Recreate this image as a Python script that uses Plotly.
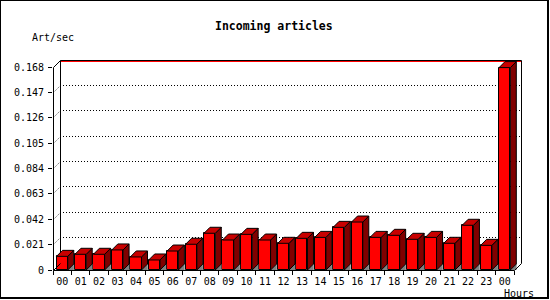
import plotly.graph_objects as go

# ---------------- data ----------------
hours = ["00", "01", "02", "03", "04", "05", "06", "07", "08", "09", "10", "11",
         "12", "13", "14", "15", "16", "17", "18", "19", "20", "21", "22", "23", "00"]
rates = [0.0113, 0.0130, 0.0130, 0.0166, 0.0108, 0.0083, 0.0157, 0.0213, 0.0304,
         0.0248, 0.0295, 0.0248, 0.0221, 0.0262, 0.0270, 0.0353, 0.0397, 0.0270,
         0.0287, 0.0254, 0.0270, 0.0221, 0.0370, 0.0204, 0.1675]
y_ticks = [0, 0.021, 0.042, 0.063, 0.084, 0.105, 0.126, 0.147, 0.168]
y_labels = ["0", "0.021", "0.042", "0.063", "0.084", "0.105", "0.126", "0.147", "0.168"]
title_text = "Incoming articles"
y_title = "Art/sec"
x_title = "Hours"

# ---------------- geometry ----------------
W, H = 550, 300
L, R, T, B = 53, 521, 61, 270          # plot area (incl. 3D back wall)
FRONT_W = 461                            # front plane width in px
PXU = FRONT_W / len(hours)               # px per category
PXV = 203 / y_ticks[-1]                  # px per value unit
XMAX = (R - L) / PXU
YMAX = (B - T) / PXV
WALL = 7                                 # wall depth in px
DEPTH = 6                                # bar depth in px
BAR_OFF = 0.19
BAR_W = 0.61
FONT = "DejaVu Sans Mono"


def px(xp):
    return (xp - L) / (R - L)


def py(yp):
    return (B - yp) / (B - T)


def xpix(u):
    return L + u * PXU


def ypix(v):
    return B - v * PXV


dxb = DEPTH / PXU
dyb = DEPTH / PXV

top_x, top_y, side_x, side_y, sh_x, sh_y = [], [], [], [], [], []
for i, v in enumerate(rates):
    xl = i + BAR_OFF
    xr = xl + BAR_W
    top_x += [xl, xl + dxb, xr + dxb, xr, xl, None]
    top_y += [v, v + dyb, v + dyb, v, v, None]
    side_x += [xr, xr + dxb, xr + dxb, xr, xr, None]
    side_y += [v, v + dyb, dyb, 0, v, None]
    sh_x += [xr, xr + dxb, xr + dxb, xr, None]
    sh_y += [0, dyb, 0, 0, None]

fig = go.Figure()
fig.add_trace(go.Bar(
    x=[i + BAR_OFF + BAR_W / 2 for i in range(len(rates))], y=rates, width=BAR_W,
    marker=dict(color="#ff0000", line=dict(color="black", width=1)),
    hoverinfo="skip", showlegend=False))
fig.add_trace(go.Scatter(x=sh_x, y=sh_y, mode="lines", fill="toself",
                         fillcolor="#808080", line=dict(color="#808080", width=0.5),
                         hoverinfo="skip", showlegend=False))
fig.add_trace(go.Scatter(x=side_x, y=side_y, mode="lines", fill="toself",
                         fillcolor="#800000", line=dict(color="black", width=1),
                         hoverinfo="skip", showlegend=False))
fig.add_trace(go.Scatter(x=top_x, y=top_y, mode="lines", fill="toself",
                         fillcolor="#c80000", line=dict(color="black", width=1),
                         hoverinfo="skip", showlegend=False))

shapes = []


def seg(x0, y0, x1, y1, color="black", width=1, dash=None, layer="above"):
    ln = dict(color=color, width=width)
    if dash:
        ln["dash"] = dash
    shapes.append(dict(type="line", xref="paper", yref="paper",
                       x0=px(x0), y0=py(y0), x1=px(x1), y1=py(y1),
                       line=ln, layer=layer))


# image frame
seg(0.5, 0, 0.5, 299)
seg(0, 0.5, 548, 0.5)
seg(548, 0, 548, 299, width=2)
seg(0, 298, 549, 298, width=2)

# back wall
ytop = round(ypix(y_ticks[-1]))
seg(L + WALL + 0.5, ytop - WALL + 0.5, R + 0.5, ytop - WALL + 0.5, layer="below")
seg(L + WALL + 0.5, ytop - WALL + 1.5, R, ytop - WALL + 1.5, color="#ff0000", layer="below")
seg(L + WALL + 0.5, ytop - WALL + 0.5, L + WALL + 0.5, B - WALL + 0.5, layer="below")
seg(R + 0.5, ytop - WALL + 0.5, R + 0.5, B - WALL + 0.5, layer="below")
# dotted grid on back wall
for v in y_ticks[1:-1]:
    yt = round(ypix(v) - 0.5)
    yy = yt - WALL + 0.5
    seg(L + WALL, yy, R, yy, dash="1px,2px", layer="below")
    seg(L + 0.5, yt + 0.5, L + WALL + 0.5, yy, dash="1px,2px", layer="below")
# depth edges
seg(L + 0.5, ytop + 0.5, L + WALL + 0.5, ytop - WALL + 0.5)
seg(L + 0.5, B + 0.5, L + WALL + 0.5, B - WALL + 0.5)
xr_front = round(xpix(len(hours)))
seg(xr_front + 0.5, B + 0.5, xr_front + WALL + 0.5, B - WALL + 0.5)
# front axes
seg(L + 0.5, ytop + 0.5, L + 0.5, B + 0.5)
seg(L + 0.5, B + 0.5, xr_front + 0.5, B + 0.5)

annotations = [
    dict(text=title_text, x=px(274), y=py(26), xref="paper", yref="paper",
         showarrow=False, xanchor="center", yanchor="middle",
         font=dict(family=FONT, size=11.5, color="black", weight="bold")),
    dict(text=y_title, x=px(30), y=py(37), xref="paper", yref="paper",
         showarrow=False, xanchor="left", yanchor="middle",
         font=dict(family=FONT, size=10, color="black")),
    dict(text=x_title, x=px(519), y=py(293), xref="paper", yref="paper",
         showarrow=False, xanchor="center", yanchor="middle",
         font=dict(family=FONT, size=10, color="black")),
]

fig.update_layout(
    width=W, height=H, autosize=False,
    margin=dict(l=L, r=W - R, t=T, b=H - B, pad=0),
    paper_bgcolor="white", plot_bgcolor="white",
    shapes=shapes, annotations=annotations, showlegend=False,
    bargap=0,
    xaxis=dict(range=[0, XMAX], tickmode="array",
               tickvals=[i + 0.5 for i in range(len(hours))], ticktext=hours,
               ticks="", showgrid=False, zeroline=False, showline=False,
               ticklabelstandoff=4,
               tickfont=dict(family=FONT, size=10, color="black"),
               minor=dict(tickmode="array", tickvals=list(range(len(hours) + 1)),
                          ticks="outside", ticklen=4, tickcolor="black",
                          tickwidth=1, showgrid=False),
               fixedrange=True),
    yaxis=dict(range=[0, YMAX], tickmode="array", tickvals=y_ticks, ticktext=y_labels,
               ticks="outside", ticklen=4, tickcolor="black", tickwidth=1,
               showgrid=False, zeroline=False, showline=False,
               ticklabelstandoff=2,
               tickfont=dict(family=FONT, size=10, color="black"),
               fixedrange=True),
)

fig.write_html("out.html", config=dict(displayModeBar=False))
